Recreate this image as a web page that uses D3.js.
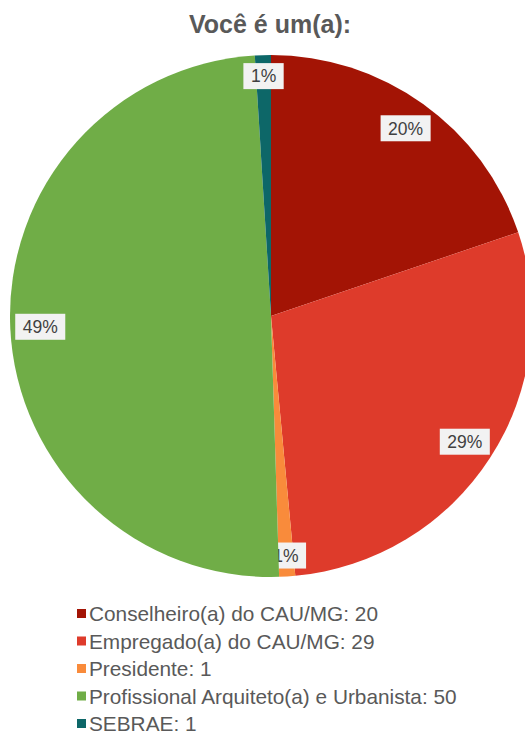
<!DOCTYPE html>
<html>
<head>
<meta charset="utf-8">
<script src="https://cdn.jsdelivr.net/npm/d3@7"></script>
<style>
  body { margin: 0; background: #fff; }
  svg { display: block; font-family: "Liberation Sans", Arial, sans-serif; }
</style>
</head>
<body>
<div id="chart"></div>
<script>
// dados do gráfico
var categorias = ["Conselheiro(a) do CAU/MG", "Empregado(a) do CAU/MG", "Presidente",
                  "Profissional Arquiteto(a) e Urbanista", "SEBRAE"];
var valores = [20, 29, 1, 50, 1];
var rotulos = ["20%", "29%", "1%", "49%", "1%"];
var cores = ["#A31405", "#DE3B2B", "#F98B3B", "#70AD47", "#0D6768"];

var width = 525, height = 735;
var radius = 261;
var cx = 271, cy = 316;

var dados = categorias.map(function (c, i) {
    return { nome: c, valor: valores[i], rotulo: rotulos[i], cor: cores[i] };
});

var svg = d3.select("#chart").append("svg")
    .attr("width", width)
    .attr("height", height);

// titulo
svg.append("text")
    .attr("x", 270)
    .attr("y", 33)
    .attr("text-anchor", "middle")
    .attr("font-size", "25px")
    .attr("font-weight", "bold")
    .attr("fill", "#595959")
    .text("Você é um(a):");

var pie = d3.pie().sort(null).value(function (d) { return d.valor; });
var arc = d3.arc().innerRadius(0).outerRadius(radius);

var g = svg.append("g").attr("transform", "translate(" + cx + "," + cy + ")");

var fatias = g.selectAll("g.slice")
    .data(pie(dados))
    .enter()
    .append("g")
    .attr("class", "slice");

fatias.append("path")
    .attr("d", arc)
    .attr("fill", function (d) { return d.data.cor; });

// rotulos com caixinha cinza
var rotulo = fatias.append("g")
    .attr("transform", function (d) {
        var r = d.data.valor < 5 ? 240 : 231;
        var a = d3.arc().innerRadius(r).outerRadius(r);
        return "translate(" + a.centroid(d) + ")";
    });

var caixas = rotulo.append("rect")
    .attr("y", -13)
    .attr("height", 26)
    .attr("fill", "#F2F2F2");

var textos = rotulo.append("text")
    .attr("text-anchor", "middle")
    .attr("dy", "0.36em")
    .attr("font-size", "17.5px")
    .attr("fill", "#404040")
    .text(function (d) { return d.data.rotulo; });

// largura da caixa depende do texto
textos.each(function (d) {
    var w = this.getComputedTextLength() + 15;
    d3.select(this.parentNode).select("rect")
        .attr("x", -w / 2)
        .attr("width", w);
});

// legenda
var legenda = svg.append("g")
    .selectAll("g")
    .data(dados)
    .enter()
    .append("g")
    .attr("transform", function (d, i) { return "translate(0," + (621 + i * 27.5) + ")"; });

legenda.append("rect")
    .attr("x", 77)
    .attr("y", -12)
    .attr("width", 9)
    .attr("height", 9)
    .attr("fill", function (d) { return d.cor; });

legenda.append("text")
    .attr("x", 89)
    .attr("y", 0)
    .attr("font-size", "20.8px")
    .attr("fill", "#595959")
    .text(function (d) { return d.nome + ": " + d.valor; });
</script>
</body>
</html>
